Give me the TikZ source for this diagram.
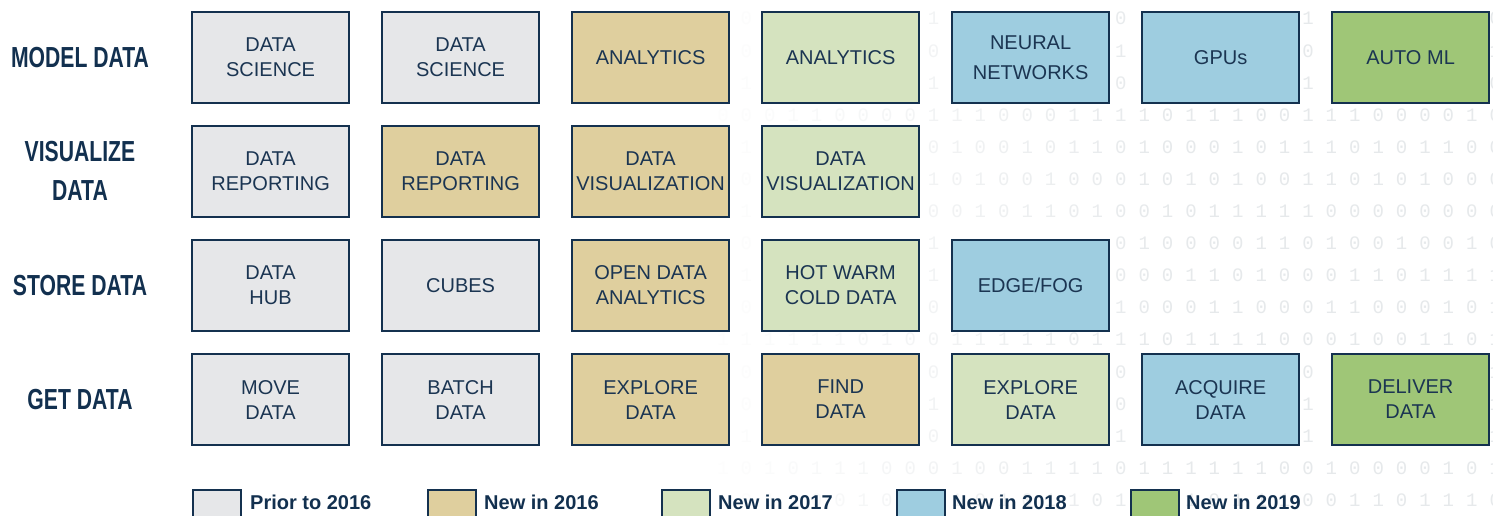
\documentclass[tikz,border=0pt]{standalone}
\usepackage{fontspec}
\setmainfont{Liberation Sans}
\newfontfamily\condb[FakeStretch=0.73]{Liberation Sans Bold}
\newfontfamily\monof{Liberation Mono}
\definecolor{bordc}{HTML}{14314F}
\definecolor{txtc}{HTML}{1B3552}
\definecolor{labc}{HTML}{12304F}
\definecolor{cgrey}{HTML}{E6E7E9}
\definecolor{ctan}{HTML}{DFCF9E}
\definecolor{clgreen}{HTML}{D5E3BF}
\definecolor{cblue}{HTML}{9ECDE0}
\definecolor{cgreen}{HTML}{9FC677}
\definecolor{digitc}{HTML}{E6E9EB}
\begin{document}
\begin{tikzpicture}[x=1pt,y=-1pt,
  box/.style={draw=bordc, line width=2.2pt, minimum width=157pt, minimum height=91pt,
    anchor=north west, align=center, text=txtc, inner sep=0pt,
    font=\fontsize{20}{25}\selectfont},
  rowlab/.style={text=labc, align=center, inner sep=0pt,
    font=\condb\fontsize{29}{38.3}\selectfont},
  legsq/.style={draw=bordc, line width=2pt, minimum width=48pt, minimum height=40pt,
    anchor=north west, inner sep=0pt},
  legtx/.style={text=labc, anchor=base west, inner sep=0pt,
    font=\bfseries\fontsize{20}{24}\selectfont},
  digit/.style={text=digitc, inner sep=0pt, font=\monof\fontsize{19}{19}\selectfont}]
\useasboundingbox (0,0) rectangle (1493,516);
\clip (0,0) rectangle (1493,516);
\fill[white] (0,0) rectangle (1493,516);
% faint binary background (digits fully hidden behind boxes are skipped)
\pgfmathsetseed{2019}
\foreach \r in {0,...,15}{
  \foreach \c in {0,...,33}{
    \pgfmathsetmacro\xx{723+23.4*\c}
    \pgfmathsetmacro\yy{18.7+32.1*\r}
    \pgfmathsetmacro\op{min(1,max(0,(\xx-690)/480))}
    \pgfmathrandominteger{\d}{0}{1}
    \pgfmathtruncatemacro\cx{floor((\xx-184)/190)}
    \pgfmathtruncatemacro\ri{floor((\yy-2)/114)}
    \pgfmathtruncatemacro\maxc{\ri==1 ? 3 : (\ri==2 ? 4 : 6)}
    \pgfmathtruncatemacro\hid{and(and(\xx-184-190*\cx<=171, \cx<=\maxc), and(\yy-2-114*\ri<=109, \ri<=3))}
    \ifnum\hid=0
      \node[digit, opacity=\op] (d\r-\c) at (\xx,\yy) {\d};
    \fi
  }
}
% row labels
\node[rowlab] (lmodel) at (80,57.5) {MODEL DATA};
\node[rowlab] (lvis) at (80,171) {VISUALIZE\\DATA};
\node[rowlab] (lstore) at (80,285.5) {STORE DATA};
\node[rowlab] (lget) at (80,399.5) {GET DATA};
% row 1: model data
\node[box, fill=cgrey] (m1) at (191,11) {DATA\\SCIENCE};
\node[box, fill=cgrey] (m2) at (381,11) {DATA\\SCIENCE};
\node[box, fill=ctan] (m3) at (571,11) {ANALYTICS};
\node[box, fill=clgreen] (m4) at (761,11) {ANALYTICS};
\node[box, fill=cblue, font=\fontsize{20}{30}\selectfont] (m5) at (951,11) {NEURAL\\NETWORKS};
\node[box, fill=cblue] (m6) at (1141,11) {GPUs};
\node[box, fill=cgreen] (m7) at (1331,11) {AUTO ML};
% row 2: visualize data
\node[box, fill=cgrey] (v1) at (191,125) {DATA\\REPORTING};
\node[box, fill=ctan] (v2) at (381,125) {DATA\\REPORTING};
\node[box, fill=ctan] (v3) at (571,125) {DATA\\VISUALIZATION};
\node[box, fill=clgreen] (v4) at (761,125) {DATA\\VISUALIZATION};
% row 3: store data
\node[box, fill=cgrey] (s1) at (191,239) {DATA\\HUB};
\node[box, fill=cgrey] (s2) at (381,239) {CUBES};
\node[box, fill=ctan] (s3) at (571,239) {OPEN DATA\\ANALYTICS};
\node[box, fill=clgreen] (s4) at (761,239) {HOT WARM\\COLD DATA};
\node[box, fill=cblue] (s5) at (951,239) {EDGE/FOG};
% row 4: get data
\node[box, fill=cgrey] (g1) at (191,353) {MOVE\\DATA};
\node[box, fill=cgrey] (g2) at (381,353) {BATCH\\DATA};
\node[box, fill=ctan] (g3) at (571,353) {EXPLORE\\DATA};
\node[box, fill=ctan] (g4) at (761,353) {FIND\\DATA};
\node[box, fill=clgreen] (g5) at (951,353) {EXPLORE\\DATA};
\node[box, fill=cblue] (g6) at (1141,353) {ACQUIRE\\DATA};
\node[box, fill=cgreen] (g7) at (1331,353) {DELIVER\\DATA};
% legend
\node[legsq, fill=cgrey] (k1) at (192,489) {};
\node[legtx] (t1) at (250,509.5) {Prior to 2016};
\node[legsq, fill=ctan] (k2) at (427,489) {};
\node[legtx] (t2) at (484,509.5) {New in 2016};
\node[legsq, fill=clgreen] (k3) at (661,489) {};
\node[legtx] (t3) at (718,509.5) {New in 2017};
\node[legsq, fill=cblue] (k4) at (896,489) {};
\node[legtx] (t4) at (952,509.5) {New in 2018};
\node[legsq, fill=cgreen] (k5) at (1130,489) {};
\node[legtx] (t5) at (1186,509.5) {New in 2019};
\end{tikzpicture}
\end{document}
